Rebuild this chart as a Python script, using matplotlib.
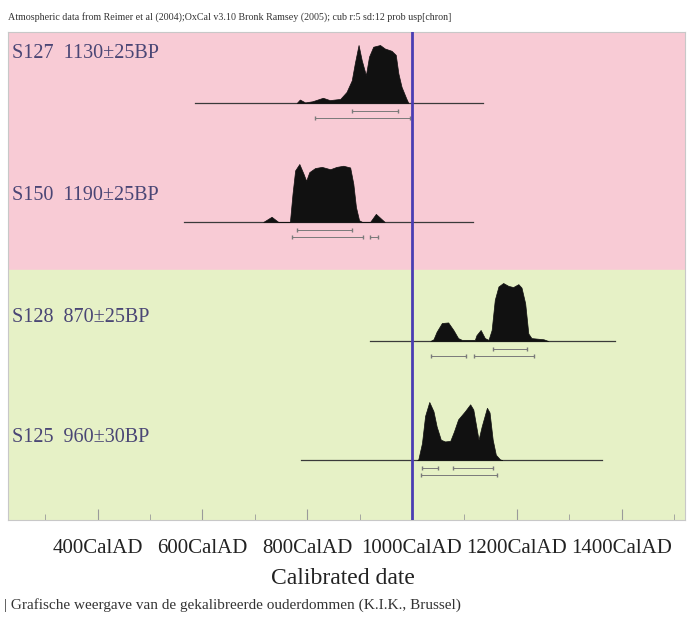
import numpy as np
import matplotlib
matplotlib.use("Agg")
import matplotlib.pyplot as plt

# %% Data
header = ("Atmospheric data from Reimer et al (2004);OxCal v3.10 Bronk Ramsey (2005); "
          "cub r:5 sd:12 prob usp[chron]")
caption = "| Grafische weergave van de gekalibreerde ouderdommen (K.I.K., Brussel)"

labels = ["S127  1130\u00b125BP", "S150  1190\u00b125BP",
          "S128  870\u00b125BP", "S125  960\u00b130BP"]

# calibrated years AD and relative probability
s127_yr = [780, 786, 796, 810, 830, 843, 863, 875, 885, 891, 898, 904, 912,
           918, 926, 939, 948, 961, 969, 974, 980, 989, 993]
s127_p = [0, .06, .01, .03, .09, .05, .07, .19, .39, .69, 1.0, .74, .48,
          .80, .97, 1.0, .94, .90, .83, .51, .28, .08, 0]

s150_yr = [716, 732, 745, 767, 772, 777, 785, 793, 798, 804, 815, 828, 844,
           856, 869, 882, 888, 893, 899, 905, 920, 931, 948]
s150_p = [0, .09, 0, 0, .49, .89, 1.0, .83, .71, .86, .93, .95, .91,
          .95, .97, .94, .66, .26, .03, 0, 0, .14, 0]

s128_yr = [1035, 1041, 1047, 1057, 1069, 1079, 1088, 1095, 1120, 1123, 1131,
           1139, 1146, 1152, 1158, 1165, 1174, 1184, 1193, 1203, 1209, 1216,
           1222, 1228, 1251, 1260]
s128_p = [0, .03, .16, .31, .32, .19, .05, .02, .02, .10, .19,
          .05, .02, .19, .71, .94, 1.0, .95, .93, .98, .92, .65,
          .13, .05, .03, 0]

s125_yr = [1010, 1012, 1019, 1025, 1033, 1041, 1047, 1055, 1063, 1073, 1080,
           1088, 1101, 1111, 1117, 1127, 1133, 1143, 1148, 1154, 1160, 1168,
           1172]
s125_p = [0, .01, .29, .76, 1.0, .84, .58, .35, .32, .33, .49,
          .70, .84, .96, .87, .35, .58, .90, .82, .35, .09, .01, 0]

years = [s127_yr, s150_yr, s128_yr, s125_yr]
probs = [s127_p, s150_p, s128_p, s125_p]

# extent of the baseline for each sample
spans = [(586, 1135), (564, 1117), (920, 1387), (789, 1362)]

# 68.2% and 95.4% ranges
r68 = [[(885, 973)], [(780, 885)], [(1155, 1219)], [(1019, 1050), (1078, 1155)]]
r95 = [[(815, 996)], [(771, 906), (920, 935)],
       [(1036, 1103), (1119, 1233)], [(1017, 1163)]]

tick_years = [400, 600, 800, 1000, 1200, 1400]
tick_labels = ["400CalAD", "600CalAD", "800CalAD", "1000CalAD",
               "1200CalAD", "1400CalAD"]

# %% Layout
base_y = [417, 298, 179, 60]      # baseline of each row (axes units)
label_y = [467, 324, 203, 82]
peak_h = 58

serif = ["Liberation Serif", "DejaVu Serif"]
plt.rcParams['font.family'] = serif

fig = plt.figure(figsize=(6.89, 6.22), dpi=100)
ax = fig.add_axes([8/689, 1 - 520/622, 677/689, 488/622])
ax.set_xlim(229, 1521)
ax.set_ylim(0, 488)

# background bands
ax.axhspan(250, 488, color='#f8cbd5', zorder=0)
ax.axhspan(0, 250, color='#e6f1c6', zorder=0)

for i in range(4):
    b = base_y[i]
    ax.plot(spans[i], [b, b], color='#3a3a3a', linewidth=0.9, zorder=2)
    yr = np.array(years[i])
    p = np.array(probs[i])
    ax.fill_between(yr, b, b + p*peak_h, color='#111111', linewidth=0.5,
                    zorder=3)
    for (a, c) in r68[i]:
        ax.plot([a, c], [b - 8, b - 8], color='#7a7a7a', linewidth=0.7,
                marker='|', markersize=3, zorder=2)
    for (a, c) in r95[i]:
        ax.plot([a, c], [b - 15, b - 15], color='#7a7a7a', linewidth=0.7,
                marker='|', markersize=3, zorder=2)
    ax.text(0.006, label_y[i], labels[i], transform=ax.get_yaxis_transform(),
            fontsize=14.5, color='#4a4675', va='center', ha='left')

# 1000 AD marker
ax.axvline(1000, color='#4a3db3', linewidth=2, zorder=4)

ax.set_xticks(tick_years)
ax.set_xticklabels(tick_labels, fontsize=15, color='#222222')
ax.set_xticks(np.arange(300, 1501, 100), minor=True)
ax.tick_params(axis='x', which='major', direction='in', length=8,
               color='#9a9a9a', pad=14)
ax.tick_params(axis='x', which='minor', direction='in', length=4,
               color='#9a9a9a')
ax.set_yticks([])
for s in ax.spines.values():
    s.set_color('#c8c8c8')
    s.set_linewidth(0.8)

fig.text(343/689, 1 - 578/622, "Calibrated date", fontsize=17,
         color='#222222', ha='center', va='center')
fig.text(8/689, 1 - 17/622, header, fontsize=7.2, color='#333333',
         ha='left', va='center')
fig.text(4/689, 1 - 605/622, caption, fontsize=11, color='#333333',
         ha='left', va='center')

fig.savefig("out.png", dpi=100)
